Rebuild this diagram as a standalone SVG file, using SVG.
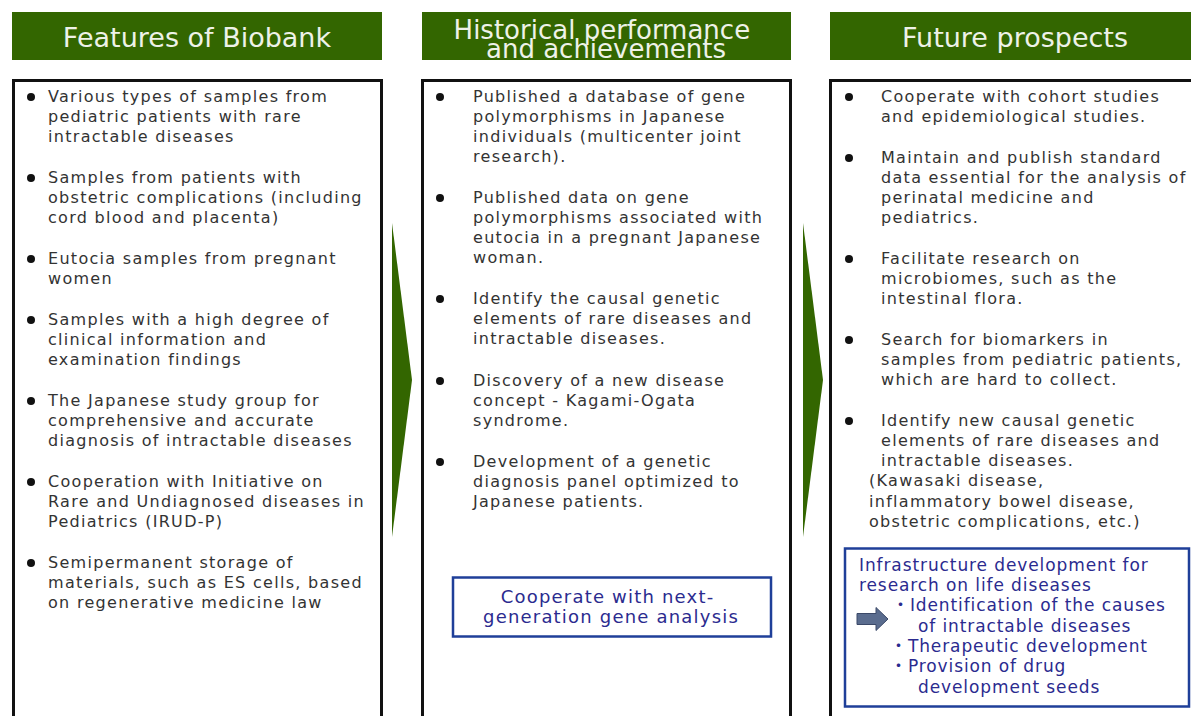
<svg xmlns="http://www.w3.org/2000/svg" width="1191" height="716" viewBox="0 0 1191 716">
  <style>
    .hdr { fill: #336600; }
    .hdr-text { font-family: "DejaVu Sans", Verdana, sans-serif; font-size: 27px; fill: #eef2e8; text-anchor: middle; }
    .panel { fill: #ffffff; stroke: #111111; stroke-width: 3; }
    .body { font-family: "DejaVu Sans", Verdana, sans-serif; font-size: 16px; fill: #333333; letter-spacing: 1.3px; }
    .dot { fill: #111111; }
    .flow { fill: #336600; }
    .note { fill: #ffffff; stroke: #1f3f99; stroke-width: 2.5; }
    .note-text { font-family: "DejaVu Sans", Verdana, "Noto Sans CJK JP", sans-serif; fill: #2b2b8f; }
  </style>

  <rect width="1191" height="716" fill="#ffffff"/>

  <!-- Column 1: features -->
  <g id="features">
    <rect class="hdr" x="12" y="12" width="370" height="48"/>
    <text class="hdr-text" x="197" y="47">Features of Biobank</text>
    <rect class="panel" x="13.5" y="80.5" width="368" height="660"/>
    <g class="dot">
      <circle cx="31" cy="97" r="4"/>
      <circle cx="31" cy="178" r="4"/>
      <circle cx="31" cy="259" r="4"/>
      <circle cx="31" cy="320" r="4"/>
      <circle cx="31" cy="401" r="4"/>
      <circle cx="31" cy="482" r="4"/>
      <circle cx="31" cy="563" r="4"/>
    </g>
    <text class="body">
      <tspan x="48" y="101.5">Various types of samples from</tspan>
      <tspan x="48" dy="20.25">pediatric patients with rare</tspan>
      <tspan x="48" dy="20.25">intractable diseases</tspan>
      <tspan x="48" y="182.5">Samples from patients with</tspan>
      <tspan x="48" dy="20.25">obstetric complications (including</tspan>
      <tspan x="48" dy="20.25">cord blood and placenta)</tspan>
      <tspan x="48" y="263.5">Eutocia samples from pregnant</tspan>
      <tspan x="48" dy="20.25">women</tspan>
      <tspan x="48" y="324.5">Samples with a high degree of</tspan>
      <tspan x="48" dy="20.25">clinical information and</tspan>
      <tspan x="48" dy="20.25">examination findings</tspan>
      <tspan x="48" y="405.5">The Japanese study group for</tspan>
      <tspan x="48" dy="20.25">comprehensive and accurate</tspan>
      <tspan x="48" dy="20.25">diagnosis of intractable diseases</tspan>
      <tspan x="48" y="486.5">Cooperation with Initiative on</tspan>
      <tspan x="48" dy="20.25">Rare and Undiagnosed diseases in</tspan>
      <tspan x="48" dy="20.25">Pediatrics (IRUD-P)</tspan>
      <tspan x="48" y="567.5">Semipermanent storage of</tspan>
      <tspan x="48" dy="20.25">materials, such as ES cells, based</tspan>
      <tspan x="48" dy="20.25">on regenerative medicine law</tspan>
    </text>
  </g>

  <!-- Column 2: history -->
  <g id="history">
    <rect class="hdr" x="422" y="12" width="369" height="48"/>
    <text class="hdr-text" style="font-size:26px">
      <tspan x="606" y="38.5">Historical performance</tspan>
      <tspan x="606" y="58">and achievements</tspan>
    </text>
    <rect class="panel" x="422.5" y="80.5" width="368" height="660"/>
    <g class="dot">
      <circle cx="440" cy="97" r="4"/>
      <circle cx="440" cy="198" r="4"/>
      <circle cx="440" cy="299" r="4"/>
      <circle cx="440" cy="381" r="4"/>
      <circle cx="440" cy="462" r="4"/>
    </g>
    <text class="body">
      <tspan x="473" y="101.5">Published a database of gene</tspan>
      <tspan x="473" dy="20.25">polymorphisms in Japanese</tspan>
      <tspan x="473" dy="20.25">individuals (multicenter joint</tspan>
      <tspan x="473" dy="20.25">research).</tspan>
      <tspan x="473" y="202.5">Published data on gene</tspan>
      <tspan x="473" dy="20.25">polymorphisms associated with</tspan>
      <tspan x="473" dy="20.25">eutocia in a pregnant Japanese</tspan>
      <tspan x="473" dy="20.25">woman.</tspan>
      <tspan x="473" y="303.5">Identify the causal genetic</tspan>
      <tspan x="473" dy="20.25">elements of rare diseases and</tspan>
      <tspan x="473" dy="20.25">intractable diseases.</tspan>
      <tspan x="473" y="385.5">Discovery of a new disease</tspan>
      <tspan x="473" dy="20.25">concept - Kagami-Ogata</tspan>
      <tspan x="473" dy="20.25">syndrome.</tspan>
      <tspan x="473" y="466.5">Development of a genetic</tspan>
      <tspan x="473" dy="20.25">diagnosis panel optimized to</tspan>
      <tspan x="473" dy="20.25">Japanese patients.</tspan>
    </text>
  </g>

  <g id="ngs-note">
    <rect class="note" x="453" y="577.5" width="318" height="59"/>
    <text class="note-text" style="font-size:18px; letter-spacing:1.2px" text-anchor="middle">
      <tspan x="611" y="603">Cooperate with next-</tspan>
      <tspan x="611" y="623">generation gene analysis</tspan>
    </text>
  </g>

  <!-- Column 3: prospects -->
  <g id="prospects">
    <rect class="hdr" x="830" y="12" width="361" height="48"/>
    <text class="hdr-text" x="1015" y="47">Future prospects</text>
    <rect class="panel" x="830.5" y="80.5" width="400" height="660"/>
    <g class="dot">
      <circle cx="849" cy="97" r="4"/>
      <circle cx="849" cy="158" r="4"/>
      <circle cx="849" cy="259" r="4"/>
      <circle cx="849" cy="340" r="4"/>
      <circle cx="849" cy="421" r="4"/>
    </g>
    <text class="body">
      <tspan x="881" y="101.5">Cooperate with cohort studies</tspan>
      <tspan x="881" dy="20.25">and epidemiological studies.</tspan>
      <tspan x="881" y="162.5">Maintain and publish standard</tspan>
      <tspan x="881" dy="20.25">data essential for the analysis of</tspan>
      <tspan x="881" dy="20.25">perinatal medicine and</tspan>
      <tspan x="881" dy="20.25">pediatrics.</tspan>
      <tspan x="881" y="263.5">Facilitate research on</tspan>
      <tspan x="881" dy="20.25">microbiomes, such as the</tspan>
      <tspan x="881" dy="20.25">intestinal flora.</tspan>
      <tspan x="881" y="344.5">Search for biomarkers in</tspan>
      <tspan x="881" dy="20.25">samples from pediatric patients,</tspan>
      <tspan x="881" dy="20.25">which are hard to collect.</tspan>
      <tspan x="881" y="425.5">Identify new causal genetic</tspan>
      <tspan x="881" dy="20.25">elements of rare diseases and</tspan>
      <tspan x="881" dy="20.25">intractable diseases.</tspan>
      <tspan x="869" dy="20.25">(Kawasaki disease,</tspan>
      <tspan x="869" dy="20.25">inflammatory bowel disease,</tspan>
      <tspan x="869" dy="20.25">obstetric complications, etc.)</tspan>
    </text>
  </g>

  <g id="infrastructure-note">
    <rect class="note" x="845" y="548.5" width="344" height="158"/>
    <path d="M857 613.5 H876 V607.5 L888 619 L876 630.5 V624.5 H857 Z" fill="#5a6c8e" stroke="#3b4968" stroke-width="1"/>
    <text class="note-text" style="font-size:17px; letter-spacing:0.9px">
      <tspan x="859" y="571">Infrastructure development for</tspan>
      <tspan x="859" y="591">research on life diseases</tspan>
      <tspan x="892" y="611">・Identification of the causes</tspan>
      <tspan x="918" y="631.5">of intractable diseases</tspan>
      <tspan x="890" y="651.5">・Therapeutic development</tspan>
      <tspan x="890" y="672">・Provision of drug</tspan>
      <tspan x="918" y="692.5">development seeds</tspan>
    </text>
  </g>

  <!-- flow arrows between columns -->
  <g id="connectors">
    <polygon class="flow" points="392,223 412,380 392,537"/>
    <polygon class="flow" points="803,223 823,380 803,537"/>
  </g>
</svg>
